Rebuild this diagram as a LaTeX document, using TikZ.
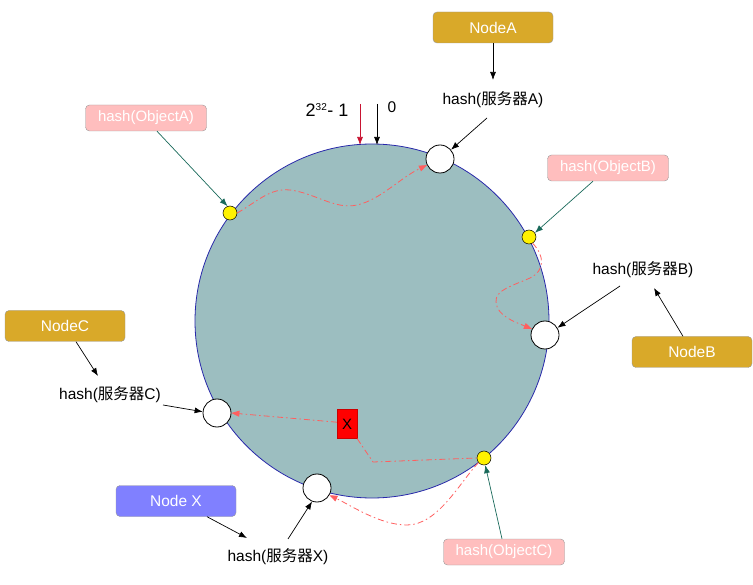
\documentclass[tikz,border=0pt]{standalone}
\usepackage{fontspec}
\setmainfont{Liberation Sans}
\newfontfamily\cjk{Noto Sans CJK SC}
\usetikzlibrary{arrows.meta}
\definecolor{ringfill}{RGB}{156,190,192}
\definecolor{ringline}{RGB}{40,40,170}
\definecolor{gold}{RGB}{217,169,41}
\definecolor{pinkbox}{RGB}{255,190,190}
\definecolor{purplebox}{RGB}{128,128,255}
\definecolor{tealarrow}{RGB}{25,105,90}
\definecolor{dashred}{RGB}{255,95,95}
\definecolor{darkred}{RGB}{200,20,50}
\tikzset{
  srv/.style={circle,draw=black,line width=0.8pt,fill=white,minimum size=28pt,inner sep=0pt},
  obj/.style={circle,draw=black,line width=0.5pt,fill=yellow,minimum size=14pt,inner sep=0pt},
  nodebox/.style={rectangle,rounded corners=4pt,draw=black!40,fill=gold,text=white,minimum width=120pt,minimum height=31pt,inner sep=0pt,font=\fontsize{15.5}{17}\selectfont},
  objbox/.style={rectangle,rounded corners=4pt,draw=black!40,fill=pinkbox,text=white,minimum width=121pt,minimum height=26pt,inner sep=0pt,font=\fontsize{15}{17}\selectfont},
  lbl/.style={inner sep=1pt,font=\fontsize{15.5}{17}\selectfont},
  arr/.style={draw=black,line width=0.7pt,-{Latex[length=8pt,width=6pt]}},
  tarr/.style={draw=tealarrow,line width=0.7pt,-{Latex[length=8pt,width=6pt]}},
  dpath/.style={draw=dashred,line width=0.8pt,dash pattern=on 6pt off 3pt on 1.5pt off 3pt,-{Triangle[length=8pt,width=6pt]}},
  dline/.style={draw=dashred,line width=0.8pt,dash pattern=on 6pt off 3pt on 1.5pt off 3pt}
}
\begin{document}
\begin{tikzpicture}[x=1pt,y=-1pt]
\useasboundingbox (0,0) rectangle (753,585);
% ring
\node[circle,draw=ringline,line width=0.8pt,fill=ringfill,minimum size=354pt,inner sep=0pt] (ring) at (372,321) {};
% top marks
\node[inner sep=0pt,font=\fontsize{18}{20}\selectfont] (top) at (327,110) {2\textsuperscript{\fontsize{10}{10}\selectfont 32}- 1};
\node[lbl] (zero) at (392,107) {0};
\coordinate (rA) at (360,104);
\coordinate (rB) at (360,145);
\coordinate (bA) at (377,104);
\coordinate (bB) at (377,145);
\draw[draw=darkred,line width=0.7pt,-{Latex[length=8pt,width=6pt]}] (rA) -- (rB);
\draw[arr] (bA) -- (bB);
% servers
\node[srv] (sA) at (440,159) {};
\node[srv] (sB) at (545,335) {};
\node[srv] (sC) at (217,413) {};
\node[srv] (sX) at (317,488) {};
% objects
\node[obj] (oA) at (230,213) {};
\node[obj] (oB) at (529,237) {};
\node[obj] (oC) at (484,458) {};
% X box
\node[rectangle,fill=red,draw=red!80!black,line width=0.4pt,minimum width=20pt,minimum height=29pt,inner sep=0pt,font=\fontsize{15}{17}\selectfont] (xb) at (347,424) {X};
% boxes
\node[nodebox] (nA) at (493,27.5) {NodeA};
\node[nodebox] (nB) at (692,352) {NodeB};
\node[nodebox] (nC) at (65,326) {NodeC};
\node[nodebox,fill=purplebox] (nX) at (176,501) {Node X};
\node[objbox] (bOA) at (146,118) {hash(ObjectA)};
\node[objbox] (bOB) at (608,168) {hash(ObjectB)};
\node[objbox] (bOC) at (504,552) {hash(ObjectC)};
% labels
\node[lbl] (hA) at (493,100) {hash({\cjk 服务器}A)};
\node[lbl] (hB) at (643,270) {hash({\cjk 服务器}B)};
\node[lbl] (hC) at (110,395) {hash({\cjk 服务器}C)};
\node[lbl] (hX) at (278,557) {hash({\cjk 服务器}X)};
% black arrows
\coordinate (hAs) at (487,118);
\coordinate (hBs) at (620,286);
\coordinate (hCs) at (163,405);
\coordinate (hXs) at (288,539);
\coordinate (hAt) at (493,80);
\coordinate (hBt) at (654,288);
\coordinate (hCt) at (98,376);
\coordinate (hXt) at (247,538);
\draw[arr] (nA.south) -- (hAt);
\draw[arr] (nB.north -| 683,0) -- (hBt);
\draw[arr] (nC.south -| 76,0) -- (hCt);
\draw[arr] (nX.south -| 207,0) -- (hXt);
\draw[arr] (hAs) -- (sA.40);
\draw[arr] (hBs) -- (sB.30);
\draw[arr] (hCs) -- (sC.175);
\draw[arr] (hXs) -- (sX.250);
% teal arrows
\draw[tarr] (bOA.south -| 157,0) -- (oA.110);
\draw[tarr] (bOB.south -| 593,0) -- (oB.35);
\draw[tarr] (bOC.north -| 502,0) -- (oC.-80);
% dashed routes
\draw[dpath] (oA.east) .. controls (258,201) and (270,188) .. (290,190) .. controls (315,193) and (335,210) .. (357,205) .. controls (380,200) and (400,178) .. (sA.205);
\draw[dpath] (oB.-60) .. controls (544,255) and (546,270) .. (530,278) .. controls (512,286) and (495,290) .. (496,302) .. controls (497,316) and (515,322) .. (sB.155);
\draw[dpath] (xb.170) -- (sC.east);
\draw[dline] (xb.south east) -- (373,462) -- (oC.west);
\draw[dpath] (oC.220) .. controls (460,482) and (438,525) .. (407,525) .. controls (380,525) and (352,506) .. (sX.-30);
\end{tikzpicture}
\end{document}
